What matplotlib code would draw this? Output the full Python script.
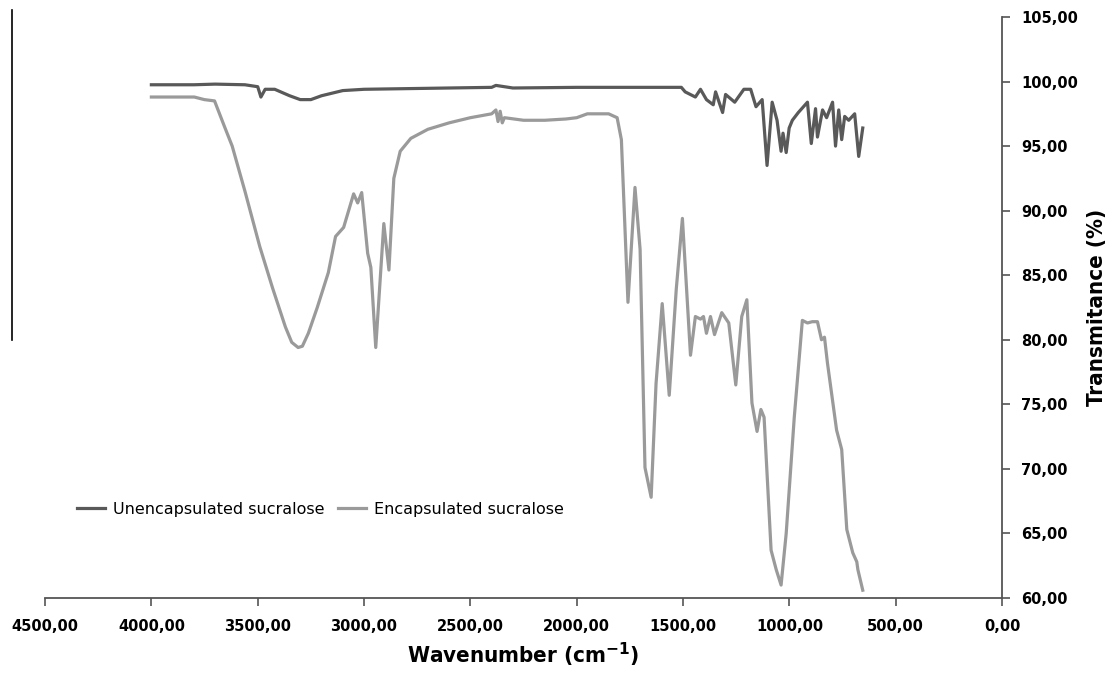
import matplotlib.pyplot as plt
from matplotlib.lines import Line2D
from matplotlib.ticker import FuncFormatter

# Unencapsulated sucralose (wavenumber, transmitance)
unenc_w = [4000, 3800, 3700, 3560, 3500, 3485, 3465, 3420, 3350, 3300, 3250, 3200,
           3100, 3000, 2800, 2600, 2400, 2380, 2300, 2000, 1700, 1508, 1490, 1442,
           1418, 1390, 1358, 1347, 1314, 1300, 1257, 1214, 1182, 1157, 1128, 1105,
           1081, 1058, 1039, 1030, 1015, 1001, 986, 958, 915, 897, 877, 868, 844,
           825, 797, 783, 768, 754, 740, 721, 693, 674, 655]
unenc_t = [99.75, 99.75, 99.8, 99.75, 99.6, 98.8, 99.4, 99.4, 98.9, 98.6, 98.6, 98.9,
           99.3, 99.4, 99.45, 99.5, 99.55, 99.7, 99.5, 99.55, 99.55, 99.55, 99.2, 98.8,
           99.4, 98.6, 98.2, 99.2, 97.6, 99.0, 98.4, 99.4, 99.4, 98.05, 98.6, 93.5,
           98.4, 97.0, 94.6, 96.0, 94.5, 96.4, 97.0, 97.6, 98.4, 95.2, 97.9, 95.7, 97.8,
           97.2, 98.4, 95.0, 97.8, 95.5, 97.3, 97.0, 97.5, 94.2, 96.4]

# Encapsulated sucralose
enc_w = [4000, 3798, 3751, 3703, 3656, 3620, 3560, 3490, 3430, 3370, 3340, 3310,
         3290, 3262, 3220, 3168, 3134, 3096, 3049, 3030, 3011, 2983, 2968, 2945,
         2907, 2883, 2860, 2830, 2780, 2700, 2600, 2500, 2400, 2380, 2370, 2360,
         2350, 2340, 2250, 2150, 2050, 2000, 1950, 1850, 1810, 1790, 1759, 1726,
         1702, 1679, 1650, 1627, 1598, 1565, 1532, 1503, 1465, 1442, 1418, 1404,
         1390, 1371, 1352, 1318, 1285, 1252, 1224, 1200, 1176, 1152, 1134, 1119,
         1086, 1062, 1039, 1015, 977, 939, 915, 892, 868, 849, 835, 821, 778, 754,
         730, 702, 683, 678, 655]
enc_t = [98.8, 98.8, 98.6, 98.5, 96.5, 95.0, 91.5, 87.2, 84.0, 81.0, 79.8, 79.4,
         79.5, 80.5, 82.5, 85.2, 88.0, 88.7, 91.3, 90.6, 91.4, 86.7, 85.6, 79.4,
         89.0, 85.4, 92.5, 94.6, 95.6, 96.3, 96.8, 97.2, 97.5, 97.8, 96.9, 97.7,
         96.8, 97.2, 97.0, 97.0, 97.1, 97.2, 97.5, 97.5, 97.2, 95.5, 82.9, 91.8,
         87.0, 70.1, 67.8, 76.6, 82.8, 75.7, 83.9, 89.4, 78.8, 81.8, 81.6, 81.8,
         80.5, 81.8, 80.4, 82.1, 81.3, 76.5, 81.8, 83.1, 75.1, 72.9, 74.6, 74.0,
         63.7, 62.2, 61.0, 65.0, 74.0, 81.5, 81.3, 81.4, 81.4, 80.0, 80.2, 78.2,
         73.0, 71.5, 65.3, 63.5, 62.8, 62.2, 60.6]

plt.rcParams['font.family'] = ['DejaVu Sans']

fig = plt.figure(figsize=(11.15, 6.74), dpi=100)
ax = fig.add_axes([0.0404, 0.1128, 0.8583, 0.862])

ax.plot(unenc_w, unenc_t, color='#595959', lw=2.3, label='Unencapsulated sucralose')
ax.plot(enc_w, enc_t, color='#9a9a9a', lw=2.3, label='Encapsulated sucralose')

ax.set_xlim(4500, 0)
ax.set_ylim(60, 105)
ax.set_xticks(range(4500, -1, -500))
ax.set_yticks(range(60, 106, 5))
fmt = FuncFormatter(lambda v, p: f'{v:.2f}'.replace('.', ','))
ax.xaxis.set_major_formatter(fmt)
ax.yaxis.set_major_formatter(fmt)

ax.yaxis.tick_right()
ax.yaxis.set_label_position('right')
for s in ['top', 'left']:
    ax.spines[s].set_visible(False)
for s in ['bottom', 'right']:
    ax.spines[s].set_color('#555555')
    ax.spines[s].set_linewidth(1.3)
ax.tick_params(axis='both', colors='#555555', labelcolor='black', length=6,
               width=1.2, labelsize=10.5)
ax.tick_params(axis='x', pad=9)
ax.tick_params(axis='y', pad=8)
for lbl in ax.get_xticklabels() + ax.get_yticklabels():
    lbl.set_fontweight('bold')

ax.set_xlabel('Wavenumber (cm$^{\\mathbf{-1}}$)', fontsize=16, fontweight='bold',
              fontstretch='condensed', labelpad=5)
ax.set_ylabel('Transmitance (%)', fontsize=16, fontweight='bold',
              fontstretch='condensed', labelpad=6)

ax.legend(loc='center left', bbox_to_anchor=(0.018, 0.153), ncol=2, frameon=False,
          fontsize=11.5, handlelength=1.8, columnspacing=0.8, handletextpad=0.5)

# stray vertical rule at far left of the original image
fig.add_artist(Line2D([12 / 1115, 12 / 1115], [1 - 10 / 674, 1 - 340 / 674],
                      color='black', lw=1.2))

fig.savefig('out.png', dpi=100)
